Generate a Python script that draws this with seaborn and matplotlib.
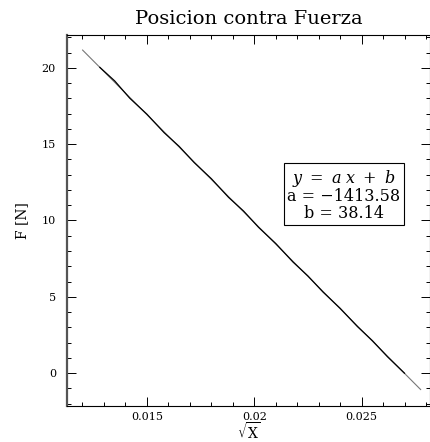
import matplotlib
matplotlib.use("Agg")
import matplotlib.pyplot as plt
import seaborn as sns
import pandas as pd
from matplotlib.ticker import MultipleLocator

# data
sqrt_x = [0.0128, 0.0135, 0.0142, 0.0150, 0.0158, 0.0165, 0.0172, 0.0180, 0.0188, 0.0195,
          0.0202, 0.0210, 0.0218, 0.0225, 0.0232, 0.0240, 0.0248, 0.0255, 0.0262, 0.0270]
force = [20.05, 19.15, 18.02, 16.97, 15.76, 14.86, 13.80, 12.74, 11.52, 10.62,
         9.55, 8.49, 7.28, 6.36, 5.31, 4.24, 3.05, 2.12, 1.07, -0.02]
fit_x = [0.0120, 0.02775]
fit_f = [21.18, -1.09]
coef_a = "-1413.58"
coef_b = "38.14"

sns.set_style("ticks")
plt.rcParams['font.family'] = ['DejaVu Serif']
plt.rcParams['mathtext.fontset'] = 'dejavuserif'
plt.rcParams['text.color'] = 'black'
plt.rcParams['axes.labelcolor'] = 'black'

fig = plt.figure(figsize=(4.31, 4.42), dpi=100)
ax = fig.add_axes([67/431, 1-406/442, (430-67)/431, (406-35)/442])

df_fit = pd.DataFrame({"x": fit_x, "F": fit_f})
df = pd.DataFrame({"x": sqrt_x, "F": force})
sns.lineplot(data=df_fit, x="x", y="F", ax=ax, color="#777777", lw=0.8, sort=False)
sns.lineplot(data=df, x="x", y="F", ax=ax, color="black", lw=0.9, sort=False)

ax.set_xlim(0.01128, 0.02818)
ax.set_ylim(-2.16, 22.16)
ax.xaxis.set_minor_locator(MultipleLocator(0.001))
ax.yaxis.set_minor_locator(MultipleLocator(1))
ax.set_xticks([0.015, 0.02, 0.025])
ax.set_xticklabels(["0.015", "0.02", "0.025"])
ax.set_yticks([0, 5, 10, 15, 20])
ax.set_yticklabels(["0", "5", "10", "15", "20"])
ax.tick_params(which="both", direction="in", top=True, right=True, colors="black",
               labelcolor="black", labelsize=8, width=0.7)
ax.tick_params(which="major", length=6.5)
ax.tick_params(which="minor", length=3)
ax.tick_params(axis="x", which="major", pad=4)
ax.tick_params(axis="y", which="major", pad=8)
for s in ax.spines.values():
    s.set_linewidth(0.8)
    s.set_color("black")
ax.spines["left"].set_linewidth(1.6)
ax.spines["left"].set_color("#555555")

ax.set_xlabel(r"$\sqrt{\mathrm{X}}$", fontsize=10, labelpad=0, color="black")
ax.set_ylabel("F [N]", fontsize=10, labelpad=9, color="black")
ax.set_title("Posicion contra Fuerza", fontsize=14, pad=8, color="black")

ax.text(0.763, 0.569,
        "$y\\ =\\ a\\ x\\ +\\ b$\na = \u2212" + coef_a[1:] + "\nb = " + coef_b,
        transform=ax.transAxes, ha="center", va="center", fontsize=11.5, linespacing=0.95,
        color="black",
        bbox=dict(boxstyle="square,pad=0.2", fc="white", ec="black", lw=0.8))

fig.savefig("out.png", dpi=100)
